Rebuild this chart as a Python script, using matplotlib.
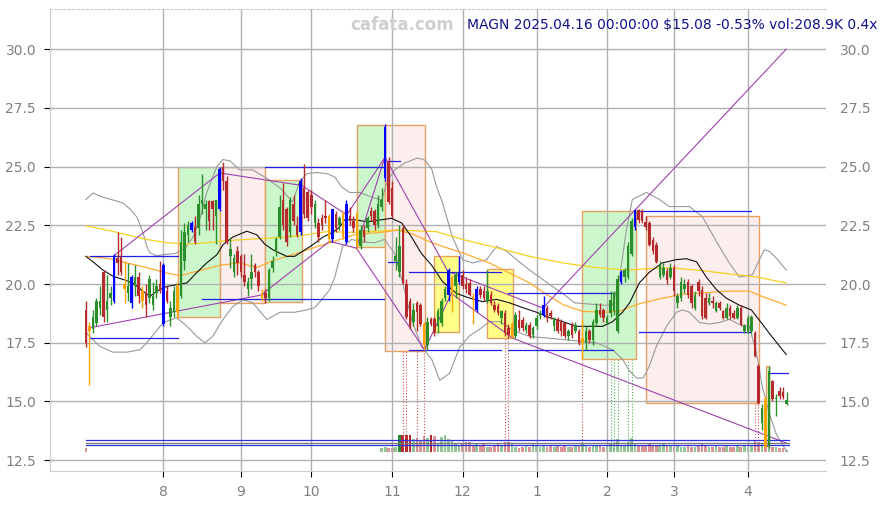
import matplotlib
matplotlib.use("Agg")
import matplotlib.pyplot as plt
from matplotlib.patches import Rectangle
import numpy as np

# ---------------- daily bars (index 0 = 2024-07-01) ----------------
opens = [18.9, 18.0, 18.1, 18.35, 19.0, 20.5, 18.9, 19.4, 19.3, 21.1,
         21.15, 20.0, 19.6, 19.2, 19.9, 20.3, 19.7, 19.6, 19.4, 19.1,
         19.6, 20.0, 18.3, 19.7, 18.6, 18.8, 18.8, 19.5, 21.0, 22.1,
         22.3, 22.45, 22.4, 23.4, 23.2, 23.55, 23.55, 22.9, 23.2, 25.0,
         24.4, 21.2, 20.5, 21.4, 21.2, 20.4, 19.8, 20.2, 20.8, 20.5,
         19.6, 19.6, 19.4, 20.7, 21.4, 22.0, 23.6, 23.2, 22.2, 23.4,
         22.5, 22.2, 24.1, 23.9, 23.8, 22.6, 22.6, 22.8, 22.9, 21.9,
         21.9, 23.0, 22.5, 22.0, 21.8, 22.9, 22.7, 21.6, 21.6, 22.3,
         22.4, 23.1, 23.1, 22.5, 23.3, 24.5, 25.2, 24.1, 21.0, 20.5,
         22.4, 20.0, 19.3, 18.4, 19.2, 19.1, 18.3, 17.4, 18.5, 18.5,
         18.2, 18.35, 19.4, 19.55, 19.6, 19.9, 20.1, 20.4, 20.0, 20.05,
         19.5, 18.9, 19.8, 19.7, 19.3, 19.55, 19.1, 19.05, 18.56, 18.77,
         18.13, 17.8, 17.78, 18.47, 18.47, 18.06, 18.27, 17.85, 18.2, 18.63,
         18.7, 18.98, 18.77, 18.2, 18.5, 18.4, 18.34, 17.78, 18.27, 17.99,
         17.99, 17.5, 17.49, 18.0, 17.6, 18.34, 18.9, 18.9, 18.35, 18.77,
         18.84, 18.0, 20.1, 20.3, 20.3, 21.3, 22.45, 23.16, 23.1, 22.66,
         22.59, 21.88, 21.67, 20.3, 20.4, 20.54, 20.3, 20.68, 19.19, 19.4,
         19.8, 20.1, 19.9, 18.98, 20.1, 19.76, 19.4, 19.2, 19.3, 18.84,
         19.2, 18.84, 18.56, 18.98, 18.77, 18.56, 18.98, 17.99, 17.99, 18.0,
         17.92, 16.5, 14.1, 15.1, 13.1, 15.86, 15.1, 15.44, 15.4, 14.9]
highs = [19.3, 18.4, 18.9, 19.4, 19.9, 20.6, 20.4, 19.9, 21.3, 22.2,
         22.0, 21.0, 20.9, 20.4, 20.8, 20.5, 19.9, 20.0, 20.4, 20.1,
         20.2, 21.0, 20.9, 19.9, 19.3, 19.9, 20.1, 22.3, 22.6, 22.7,
         22.7, 22.9, 23.8, 24.7, 23.6, 23.6, 23.6, 23.6, 25.0, 25.2,
         24.6, 22.0, 21.3, 21.6, 21.3, 21.3, 20.3, 21.3, 20.9, 20.6,
         19.8, 19.8, 20.7, 21.2, 22.0, 23.8, 24.3, 23.3, 23.7, 23.8,
         22.9, 24.5, 25.1, 24.0, 24.0, 23.6, 22.8, 23.0, 23.6, 23.0,
         23.2, 23.1, 22.9, 23.1, 23.6, 23.3, 22.9, 23.1, 22.5, 22.5,
         22.9, 23.3, 23.2, 23.8, 24.1, 26.8, 25.4, 24.4, 22.0, 22.5,
         22.5, 20.2, 19.4, 19.2, 19.3, 19.2, 18.4, 18.6, 18.6, 18.6,
         19.0, 19.4, 19.9, 20.7, 20.4, 20.5, 21.2, 20.6, 20.3, 20.2,
         19.6, 19.9, 19.9, 19.9, 20.6, 19.7, 19.3, 19.2, 18.9, 18.9,
         18.3, 18.4, 18.8, 18.9, 18.6, 18.4, 18.4, 18.2, 18.7, 18.9,
         19.5, 19.1, 18.9, 18.6, 18.6, 18.5, 18.4, 18.1, 18.4, 18.4,
         18.1, 18.5, 18.2, 18.1, 18.5, 19.2, 19.2, 19.0, 18.7, 19.7,
         19.7, 20.4, 20.6, 20.7, 21.8, 22.8, 23.2, 23.2, 23.2, 22.9,
         22.7, 22.0, 21.8, 21.0, 20.9, 20.7, 20.9, 20.8, 19.6, 20.3,
         20.2, 20.2, 20.0, 19.7, 20.2, 19.9, 19.6, 19.6, 19.5, 19.3,
         19.3, 18.9, 19.2, 19.1, 18.9, 19.1, 19.1, 18.3, 18.7, 18.7,
         18.0, 16.6, 14.9, 15.2, 16.5, 15.9, 15.3, 15.6, 15.6, 15.4]
lows = [17.3, 15.7, 17.9, 18.2, 18.7, 18.4, 18.4, 19.1, 19.2, 20.4,
        20.4, 19.2, 19.3, 19.0, 19.5, 19.2, 19.0, 18.6, 19.2, 18.9,
        19.4, 19.6, 18.2, 19.2, 18.2, 18.6, 18.6, 19.4, 20.6, 21.8,
        22.2, 21.7, 22.1, 23.0, 22.3, 22.3, 22.3, 21.7, 23.1, 24.0,
        21.7, 20.7, 20.3, 20.4, 20.3, 19.9, 19.5, 19.8, 20.3, 19.7,
        19.3, 19.2, 19.3, 20.5, 21.2, 21.9, 22.3, 21.6, 22.0, 22.5,
        22.0, 22.1, 22.8, 22.7, 23.0, 22.4, 21.8, 22.3, 22.6, 21.8,
        21.8, 22.2, 22.3, 21.9, 21.7, 22.5, 22.2, 21.5, 21.5, 21.8,
        22.2, 22.7, 22.3, 22.4, 23.1, 24.4, 23.4, 22.8, 20.6, 20.3,
        20.0, 18.5, 18.1, 18.2, 18.0, 18.2, 17.2, 17.2, 18.2, 17.8,
        17.9, 18.2, 19.3, 19.3, 18.8, 19.4, 20.0, 19.8, 19.6, 19.5,
        18.3, 18.8, 19.4, 19.3, 19.2, 19.1, 18.8, 18.7, 18.3, 17.8,
        17.7, 17.7, 17.7, 18.0, 18.0, 17.9, 17.7, 17.7, 18.1, 18.5,
        18.6, 18.4, 18.5, 18.0, 17.9, 17.8, 17.7, 17.6, 17.7, 17.9,
        17.4, 16.8, 17.2, 17.5, 17.4, 18.2, 18.6, 18.4, 18.3, 18.6,
        18.7, 17.9, 20.0, 20.1, 20.2, 21.2, 22.3, 22.6, 22.6, 22.3,
        21.6, 21.3, 20.9, 20.2, 20.3, 20.0, 20.2, 19.5, 19.0, 19.3,
        19.6, 19.4, 19.0, 18.9, 19.5, 18.5, 18.5, 19.1, 19.0, 18.8,
        18.9, 18.5, 18.5, 18.5, 18.5, 18.5, 18.2, 17.9, 17.9, 17.9,
        16.9, 14.9, 13.8, 13.0, 13.0, 15.0, 14.4, 15.1, 15.1, 14.85]
closes = [17.5, 18.2, 18.6, 19.27, 19.3, 18.6, 19.3, 19.6, 21.2, 20.9,
          20.5, 19.8, 19.9, 20.3, 20.3, 19.5, 19.3, 19.1, 20.2, 19.5,
          19.9, 19.7, 20.8, 19.3, 19.0, 19.7, 19.9, 21.8, 22.2, 22.5,
          22.6, 21.8, 23.4, 23.6, 23.4, 22.7, 23.2, 23.6, 24.9, 24.4,
          21.8, 21.5, 21.1, 20.9, 20.5, 20.1, 20.1, 20.5, 20.5, 19.9,
          19.4, 19.4, 20.6, 21.0, 21.9, 23.3, 22.5, 21.8, 23.6, 22.7,
          22.1, 24.4, 23.0, 22.8, 23.3, 23.4, 22.0, 22.5, 22.8, 22.9,
          23.2, 22.4, 22.8, 23.0, 23.4, 22.7, 22.4, 23.0, 22.3, 22.0,
          22.8, 22.9, 22.5, 23.4, 23.6, 26.7, 23.5, 22.9, 21.2, 21.6,
          20.05, 18.6, 18.2, 18.9, 18.8, 18.3, 17.4, 18.4, 18.3, 17.9,
          18.85, 19.3, 19.8, 20.6, 20.3, 20.4, 20.5, 19.9, 19.8, 19.55,
          19.4, 19.8, 19.55, 19.4, 19.7, 19.2, 18.9, 18.77, 18.84, 17.92,
          17.85, 18.3, 18.7, 18.13, 18.13, 18.27, 17.78, 18.13, 18.56, 18.77,
          19.12, 18.56, 18.63, 18.56, 18.0, 17.99, 17.78, 17.99, 17.85, 18.27,
          17.49, 17.7, 17.99, 17.6, 18.4, 18.9, 18.7, 18.55, 18.56, 19.34,
          19.6, 20.2, 20.5, 20.6, 21.6, 22.7, 23.16, 22.73, 22.7, 22.45,
          21.67, 21.39, 20.96, 20.82, 20.7, 20.18, 20.68, 19.69, 19.48, 20.1,
          20.0, 19.55, 19.19, 19.55, 19.69, 18.63, 18.56, 19.4, 19.2, 19.2,
          19.0, 18.56, 18.98, 18.63, 18.56, 18.98, 18.27, 18.2, 18.56, 18.6,
          16.93, 14.95, 14.73, 13.1, 16.3, 15.1, 15.15, 15.23, 15.2, 15.08]
blue_bars = [8, 13, 22, 30, 38, 61, 70, 74, 85, 103, 106, 111, 130, 152, 156]
orange_bars = [1, 11, 16, 26, 50, 69, 73, 77, 96, 104, 110, 121, 141, 193]

# volume in thousands of shares
volumes = ([390] + [0] * 83 +
           [390, 590, 390, 390, 590, 1960, 1960, 1960, 1960, 1460,
            1650, 1380, 1850, 1570, 1960, 1850, 980, 1690, 1960, 1460,
            1380, 980, 790, 980, 1180, 1180, 700, 980, 790, 980,
            590, 590, 790, 980, 790, 1180, 1180, 980, 590, 390,
            590, 790, 590, 980, 700, 590, 790, 590, 700, 590,
            790, 590, 700, 590, 590, 700, 790, 980, 700, 590,
            700, 790, 700, 590, 790, 980, 980, 1460, 790, 700,
            1180, 1570, 980, 790, 700, 790, 980, 790, 790, 700,
            980, 790, 700, 590, 700, 590, 590, 700, 590, 590,
            700, 980, 700, 590, 590, 700, 590, 590, 700, 590,
            590, 700, 590, 700, 590, 700, 1380, 1180, 1060, 1460,
            1380, 590, 500, 450, 390, 209])
dark_vol = [89, 90, 91, 92, 98]

month_pos = [22, 44, 64, 87, 107, 128, 148, 167, 188]
month_lbl = ['8', '9', '10', '11', '12', '1', '2', '3', '4']

# indicator lines: (bar index, price)
bb_upper = [(0, 23.6), (2.0, 23.88), (4.8, 23.7), (7.7, 23.58), (10.5, 23.45), (12.5, 23.2),
            (14.5, 22.85), (16.2, 22.2), (17.3, 21.6), (18.2, 21.33), (20.1, 21.2), (21.9, 21.25),
            (25.3, 21.3), (28.1, 21.5), (30.4, 22.0), (32.3, 22.74), (34.3, 23.9), (37.2, 25.0),
            (38.9, 25.3), (40.9, 25.25), (43.7, 24.86), (47.4, 24.86), (51.4, 24.5), (55.1, 24.1),
            (58.7, 23.5), (60.7, 24.35), (62.7, 24.7), (65.6, 24.75), (68.4, 24.7), (70.7, 24.56),
            (72.6, 24.14), (74.9, 23.9), (77.8, 23.9), (81.2, 23.7), (84.0, 23.58), (85.7, 24.43),
            (87.7, 24.86), (90.5, 25.15), (94.2, 25.37), (96.2, 25.28), (98.2, 24.9), (99.6, 24.14),
            (101.3, 23.45), (104.1, 22.0), (107.0, 21.04), (109.8, 20.9), (113.8, 21.04), (116.6, 21.6),
            (119.5, 21.4), (122.3, 21.04), (126.0, 20.6), (129.7, 20.2), (132.5, 19.9), (135.4, 19.6),
            (138.8, 19.2), (143.0, 19.15), (147.3, 19.1), (149.6, 19.1), (151.5, 20.2), (153.5, 22.3),
            (155.2, 23.6), (159.2, 23.9), (162.9, 23.6), (165.7, 23.3), (171.4, 23.3), (175.1, 22.87),
            (177.6, 22.2), (179.9, 21.6), (182.7, 20.9), (185.6, 20.3), (189.3, 20.4), (191.3, 21.04),
            (192.7, 21.46), (194.1, 21.4), (196.1, 21.1), (198.9, 20.6)]
bb_lower = [(0, 17.93), (4.0, 17.34), (7.7, 17.1), (11.6, 17.1), (15.3, 17.2), (17.3, 17.5),
            (21.9, 18.36), (25.8, 18.57), (28.7, 18.2), (31.5, 17.77), (33.8, 17.5), (36.0, 17.77),
            (38.9, 18.49), (41.7, 19.04), (44.6, 19.34), (47.4, 19.2), (51.4, 18.49), (55.1, 18.8),
            (59.3, 18.8), (62.7, 18.9), (65.0, 19.0), (67.0, 19.34), (69.2, 19.76), (70.7, 20.3),
            (72.9, 21.6), (75.5, 21.9), (78.3, 21.8), (82.0, 21.76), (84.8, 21.9), (87.7, 21.3),
            (89.7, 20.2), (92.5, 18.5), (95.3, 17.34), (98.2, 16.8), (100.5, 15.9), (103.3, 16.2),
            (106.1, 17.3), (109.0, 17.8), (112.0, 18.1), (114.6, 18.4), (117.5, 18.4), (121.7, 18.0),
            (126.0, 17.77), (135.4, 17.64), (145.0, 17.5), (149.6, 17.2), (152.4, 16.8), (154.4, 16.3),
            (156.4, 16.0), (158.3, 16.0), (160.0, 16.5), (162.0, 17.34), (164.9, 18.2), (167.7, 18.8),
            (169.4, 18.9), (171.4, 18.8), (174.3, 18.36), (177.1, 18.3), (179.9, 18.36), (182.7, 18.5),
            (185.6, 18.28), (188.4, 18.2), (190.4, 17.1), (192.1, 15.65), (194.1, 14.5), (196.1, 13.6),
            (198.9, 12.9)]
ma_black = [(0, 21.18), (2.0, 20.95), (4.8, 20.6), (7.7, 20.33), (10.5, 20.2), (13.3, 20.05),
            (16.2, 19.7), (18.2, 19.47), (20.1, 19.7), (23.0, 19.9), (25.8, 19.97), (28.7, 20.05),
            (30.9, 20.4), (34.3, 20.9), (37.2, 21.25), (38.9, 21.67), (41.7, 22.0), (45.7, 22.25),
            (48.5, 22.1), (50.8, 21.7), (53.1, 21.46), (57.0, 21.18), (59.3, 21.18), (61.6, 21.4),
            (64.4, 21.67), (67.3, 22.0), (70.1, 22.2), (72.1, 22.44), (73.5, 22.74), (76.3, 22.74),
            (80.0, 22.65), (84.0, 22.74), (86.8, 22.8), (89.7, 22.6), (92.5, 22.0), (95.3, 21.3),
            (98.2, 20.8), (101.3, 20.1), (105.3, 19.6), (109.0, 19.4), (112.7, 19.25), (116.6, 19.35),
            (120.3, 19.2), (124.0, 19.0), (128.0, 18.8), (131.7, 18.57), (135.4, 18.4), (139.3, 18.2),
            (143.0, 18.2), (146.7, 18.2), (149.6, 18.4), (152.4, 18.8), (154.4, 19.2), (157.2, 20.05),
            (160.0, 20.5), (163.7, 20.9), (167.7, 21.04), (170.5, 21.08), (173.4, 20.95), (176.2, 20.3),
            (179.1, 19.76), (181.9, 19.4), (185.6, 19.1), (189.0, 18.9), (191.8, 18.36), (194.1, 17.9),
            (198.9, 17.0)]
ma_orange = [(0, 21.18), (6.0, 21.1), (11.6, 20.9), (17.3, 20.7), (23.0, 20.47), (26.7, 20.36),
             (30.4, 20.5), (34.3, 20.65), (38.0, 20.8), (43.7, 20.9), (48.5, 20.7), (53.1, 21.0),
             (58.7, 21.25), (64.4, 21.53), (69.2, 21.76), (72.1, 21.9), (76.3, 22.1), (85.7, 22.23),
             (88.3, 22.3), (92.5, 22.15), (97.6, 21.8), (101.3, 21.6), (107.0, 21.33), (114.6, 20.9),
             (120.3, 20.47), (126.0, 20.05), (131.7, 19.47), (135.4, 19.13), (141.0, 18.84),
             (146.7, 18.8), (151.5, 18.84), (156.4, 19.13), (162.0, 19.34), (168.6, 19.55),
             (175.1, 19.62), (181.9, 19.7), (188.4, 19.7), (192.1, 19.47), (198.9, 19.1)]
ma_yellow = [(0, 22.48), (6.0, 22.3), (11.6, 22.1), (17.3, 21.9), (23.0, 21.76), (28.7, 21.7),
             (34.3, 21.76), (40.0, 21.85), (45.7, 21.9), (57.0, 22.0), (62.7, 22.1), (68.4, 22.23),
             (76.3, 22.2), (88.3, 22.3), (99.6, 22.23), (107.0, 21.9), (116.6, 21.55), (126.0, 21.18),
             (135.4, 20.9), (145.0, 20.7), (153.5, 20.6), (165.7, 20.7), (175.1, 20.57), (184.7, 20.4),
             (190.4, 20.3), (198.9, 20.05)]

# boxes: (start bar, end bar, low, high, kind)
boxes = [(26.1, 38.1, 18.6, 25.0, 'g'), (38.1, 51.0, 19.2, 25.0, 'p'),
         (51.0, 61.3, 19.22, 24.43, 'g'), (77.1, 84.9, 21.58, 26.77, 'g'),
         (84.9, 96.3, 17.14, 26.77, 'p'), (99.0, 106.0, 17.95, 21.18, 'y'),
         (114.0, 121.2, 17.7, 20.64, 'y'), (141.0, 156.2, 16.79, 23.12, 'g'),
         (159.1, 191.3, 14.92, 22.9, 'p'), (193.1, 194.1, 13.1, 16.5, 'g')]
# horizontal levels: (start bar, end bar, price)
levels = [(1.1, 26.1, 21.2), (1.1, 26.1, 17.71), (51.0, 84.8, 25.0), (32.9, 84.8, 19.37),
          (85.7, 89.1, 25.24), (85.7, 89.1, 20.96), (91.9, 118.0, 20.5), (91.9, 118.0, 17.2),
          (119.8, 149.6, 19.6), (119.8, 149.6, 17.2), (156.4, 189.0, 23.12), (157.0, 189.0, 17.96),
          (194.1, 199.3, 16.22)]
floor_levels = [13.35, 13.25, 13.14]
# trend lines: ((bar, price), (bar, price))
trends = [((1.1, 18.14), (50.4, 19.55)), ((49.9, 19.55), (69.2, 21.82)), ((69.2, 21.82), (76.8, 21.53)),
          ((7.9, 21.2), (38.0, 24.73)), ((38.0, 24.73), (61.3, 24.2)), ((61.3, 24.2), (74.1, 22.95)),
          ((74.1, 22.95), (84.8, 25.36)), ((76.8, 21.53), (84.8, 25.36)), ((76.8, 21.53), (96.2, 17.2)),
          ((85.3, 25.3), (102.8, 20.54)), ((96.2, 17.2), (103.8, 19.6)), ((103.8, 19.6), (121.3, 17.69)),
          ((121.3, 17.69), (198.9, 13.23)), ((102.8, 20.54), (129.8, 18.98)), ((129.8, 18.98), (198.9, 30.0))]
red_marks = [90, 91, 94, 96, 119, 120, 141, 190, 191]
green_marks = [149, 150, 151, 154, 155]

# ---------------- drawing ----------------
GREEN = '#2a8f2a'
RED = '#b52a2a'
n = len(closes)
idx = np.arange(n)
o = np.array(opens)
c = np.array(closes)
h = np.array(highs)
l = np.array(lows)

fig = plt.figure(figsize=(8.87, 5.05), dpi=100)
ax = fig.add_axes([50 / 887, 34 / 505, 776 / 887, 461.7 / 505])
ax2 = ax.twinx()
ax.set_zorder(ax2.get_zorder() + 1)
ax.patch.set_visible(False)

# volume
up = c >= o
vcol = [GREEN if u else RED for u in up]
valpha = [1.0 if i in dark_vol else 0.5 for i in idx]
for i in idx:
    if volumes[i] > 0:
        ax2.bar(i, volumes[i], width=0.75, color=vcol[i], alpha=valpha[i], linewidth=0)
ax2.set_ylim(-2277, 52203)
ax2.set_yticks([])
for s in ax2.spines.values():
    s.set_visible(False)

# boxes
fills = {'g': '#ccf7cc', 'p': '#fdeeee', 'y': '#ffff88'}
for x0, x1, p0, p1, k in boxes:
    ax.add_patch(Rectangle((x0, p0), x1 - x0, p1 - p0, facecolor=fills[k],
                           edgecolor='#e8a060', linewidth=1.0, zorder=1))

# dotted markers from bar lows down to the volume base
for i in red_marks:
    ax.plot([i, i], [l[i], 12.89], color='#d05050', lw=0.8, ls=':', zorder=0.8)
for i in green_marks:
    ax.plot([i, i], [l[i], 12.89], color='#50b050', lw=0.8, ls=':', zorder=0.8)

# indicator lines
for pts, col, lw in [(bb_upper, '#999999', 0.8), (bb_lower, '#999999', 0.8),
                     (ma_yellow, '#f5d020', 0.9), (ma_orange, '#ffaa33', 0.9),
                     (ma_black, '#111111', 0.8)]:
    xs, ys = zip(*pts)
    ax.plot(xs, ys, color=col, lw=lw, zorder=2)

for a, b in trends:
    ax.plot([a[0], b[0]], [a[1], b[1]], color='#a040b0', lw=0.8, zorder=2.2)

for x0, x1, p in levels:
    ax.plot([x0, x1], [p, p], color='#2020e0', lw=0.9, zorder=2.3)
for p, col in zip(floor_levels, ['#3030e0', '#777777', '#3030e0']):
    ax.plot([0, 199.7], [p, p], color=col, lw=0.9, zorder=2.3)

# candles
for i in idx:
    if i in blue_bars:
        col = '#0000ff'
    elif i in orange_bars:
        col = '#ffa500'
    else:
        col = GREEN if up[i] else RED
    ax.vlines(i, l[i], h[i], color=col, lw=1.0, zorder=3)
    bot = min(o[i], c[i])
    ht = max(abs(c[i] - o[i]), 0.04)
    ax.bar(i, ht, bottom=bot, width=0.72, color=col, linewidth=0, zorder=3)

# axes styling
ax.set_xlim(-10.2, 210.2)
ax.set_ylim(12.04, 31.70)
ax.set_yticks([12.5, 15.0, 17.5, 20.0, 22.5, 25.0, 27.5, 30.0])
ax.set_yticklabels(['12.5', '15.0', '17.5', '20.0', '22.5', '25.0', '27.5', '30.0'])
ax.set_xticks(month_pos)
ax.set_xticklabels(month_lbl)
ax.tick_params(axis='both', colors='black', labelcolor='#808080', labelsize=10, length=4)
ax.tick_params(axis='y', right=False, labelright=True, pad=6)
ax.tick_params(axis='x', pad=6)
ax.set_axisbelow('line')
ax.grid(True, color='#b0b0b0', lw=1.0)
ax.spines['right'].set_visible(False)
ax.spines['left'].set_color('#cccccc')
ax.spines['bottom'].set_color('#cccccc')
ax.spines['top'].set_color('#cccccc')
ax.spines['top'].set_linestyle((0, (2, 2)))

fig.text(402 / 887, 1 - 25 / 505, 'cafata.com', color='#cfcfcf', fontsize=12,
         fontweight='bold', ha='center', va='center')
fig.text(467 / 887, 1 - 25 / 505, 'MAGN 2025.04.16 00:00:00 $15.08 -0.53% vol:208.9K 0.4x',
         color='#12128a', fontsize=10, ha='left', va='center')

fig.savefig('out.png', dpi=100)
